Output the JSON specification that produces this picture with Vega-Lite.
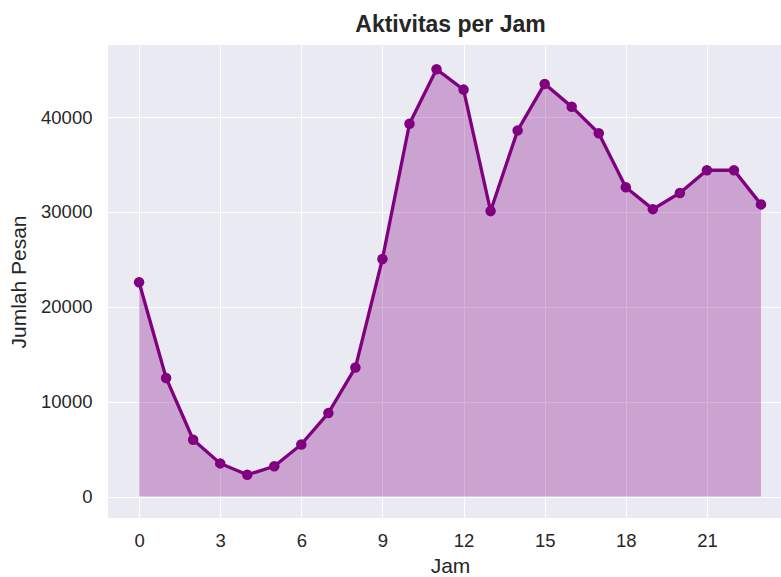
{
  "$schema": "https://vega.github.io/schema/vega-lite/v6.json",
  "width": 673,
  "height": 473,
  "autosize": {"type": "none"},
  "padding": {"left": 108, "top": 45, "right": 0, "bottom": 59},
  "background": "white",
  "title": {
    "text": "Aktivitas per Jam",
    "font": "Liberation Sans",
    "fontSize": 23,
    "fontWeight": "bold",
    "color": "#262626",
    "anchor": "middle",
    "dx": 6,
    "offset": 8
  },
  "config": {
    "view": {"fill": "#EAEAF2", "stroke": null},
    "axis": {
      "domain": false,
      "ticks": false,
      "grid": true,
      "gridColor": "#FFFFFF",
      "gridWidth": 1,
      "labelFont": "Liberation Sans",
      "labelFontSize": 18.5,
      "labelColor": "#262626",
      "titleFont": "Liberation Sans",
      "titleFontSize": 21,
      "titleFontWeight": "normal",
      "titleColor": "#262626"
    }
  },
  "data": {
    "values": [
      {"jam": 0, "pesan": 22600},
      {"jam": 1, "pesan": 12500},
      {"jam": 2, "pesan": 6000},
      {"jam": 3, "pesan": 3500},
      {"jam": 4, "pesan": 2300},
      {"jam": 5, "pesan": 3200},
      {"jam": 6, "pesan": 5500},
      {"jam": 7, "pesan": 8800},
      {"jam": 8, "pesan": 13600},
      {"jam": 9, "pesan": 25050},
      {"jam": 10, "pesan": 39300},
      {"jam": 11, "pesan": 45050},
      {"jam": 12, "pesan": 42900},
      {"jam": 13, "pesan": 30100},
      {"jam": 14, "pesan": 38600},
      {"jam": 15, "pesan": 43500},
      {"jam": 16, "pesan": 41100},
      {"jam": 17, "pesan": 38300},
      {"jam": 18, "pesan": 32600},
      {"jam": 19, "pesan": 30300},
      {"jam": 20, "pesan": 32000},
      {"jam": 21, "pesan": 34400},
      {"jam": 22, "pesan": 34400},
      {"jam": 23, "pesan": 30800}
    ]
  },
  "encoding": {
    "x": {
      "field": "jam",
      "type": "quantitative",
      "scale": {"domain": [-1.15, 23.74], "nice": false, "zero": false},
      "axis": {
        "title": "Jam",
        "values": [0, 3, 6, 9, 12, 15, 18, 21],
        "labelPadding": 13,
        "titleX": 342,
        "titlePadding": 6
      }
    },
    "y": {
      "field": "pesan",
      "type": "quantitative",
      "scale": {"domain": [-2255, 47600], "nice": false},
      "axis": {
        "title": "Jumlah Pesan",
        "values": [0, 10000, 20000, 30000, 40000],
        "format": "d",
        "labelPadding": 16,
        "titlePadding": 11
      }
    }
  },
  "layer": [
    {
      "mark": {"type": "area", "color": "purple", "opacity": 0.3},
      "encoding": {"y2": {"datum": 0}}
    },
    {
      "mark": {"type": "line", "color": "purple", "strokeWidth": 3.3}
    },
    {
      "mark": {"type": "point", "filled": true, "color": "purple", "opacity": 1, "size": 110}
    }
  ]
}
